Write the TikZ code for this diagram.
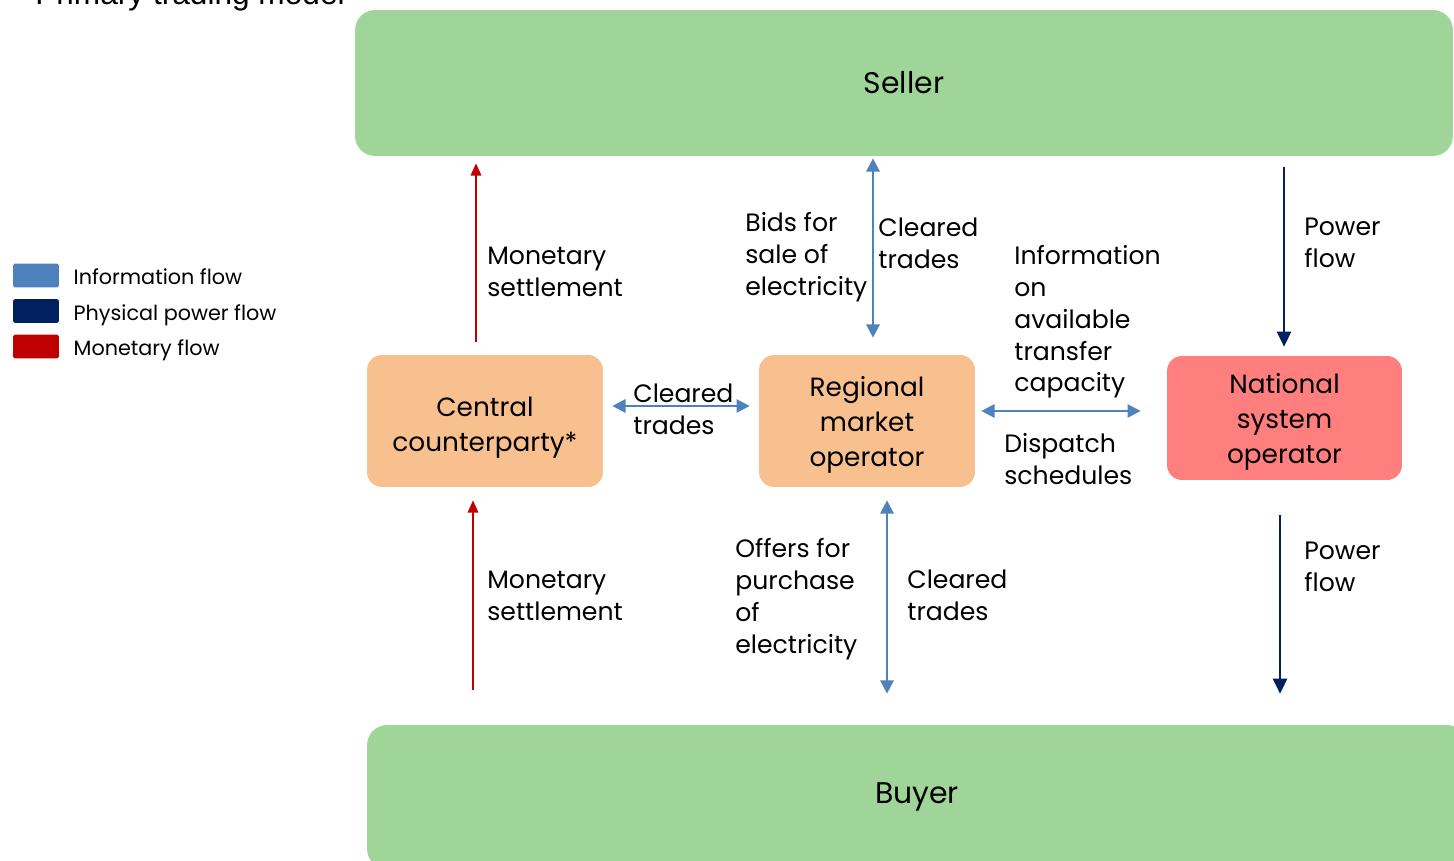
\documentclass[tikz,border=0pt]{standalone}
\usepackage{fontspec}
\usepackage{tikz}
\usetikzlibrary{arrows.meta, positioning, calc}
\setmainfont{Liberation Sans}
\newfontfamily\gothic{Poppins}
\newcommand{\lift}[1]{\rule{0pt}{#1}}
\definecolor{sellgreen}{HTML}{A0D59A}
\definecolor{ccppeach}{HTML}{F9C08F}
\definecolor{nsored}{HTML}{FF7F7F}
\definecolor{infoblue}{HTML}{4F81BD}
\definecolor{powerblue}{HTML}{002060}
\definecolor{moneyred}{HTML}{C00000}

\begin{document}
\begin{tikzpicture}[
    x=0.02cm, y=-0.02cm,
    party/.style={rectangle, fill=sellgreen, rounded corners=0.4cm, align=center, inner sep=0pt, font=\gothic\fontsize{17}{20}\selectfont},
    agent/.style={rectangle, rounded corners=0.3cm, align=center, inner sep=0pt, font=\gothic\fontsize{15}{19.8}\selectfont},
    flowtext/.style={anchor=west, align=left, inner sep=0pt, font=\gothic\fontsize{14.3}{18.1}\selectfont},
    key/.style={rectangle, rounded corners=1pt, minimum width=0.92cm, minimum height=0.48cm, inner sep=0pt},
    keytext/.style={anchor=west, inner sep=0pt, text height=11.6pt, text depth=1pt, font=\gothic\fontsize{11.8}{13}\selectfont},
    info/.style={{Triangle[length=7.5pt, width=7.5pt]}-{Triangle[length=7.5pt, width=7.5pt]}, line width=1.3pt, draw=infoblue},
    power/.style={-{Triangle[length=8.5pt, width=8pt]}, line width=1.3pt, draw=powerblue},
    money/.style={-{Triangle[length=7pt, width=6pt]}, line width=1.1pt, draw=moneyred}
]
\useasboundingbox (0,0) rectangle (1454,861);
\node[anchor=base west, inner sep=0pt, font=\fontsize{18}{20}\selectfont] (title) at (35,5) {Primary trading model};

\node[party, minimum width=21.96cm, minimum height=2.92cm] (seller) at (904,83) {Seller};
\node[party, minimum width=22cm, minimum height=2.88cm] (buyer) at (917,797) {Buyer};
\node[agent, fill=ccppeach, minimum width=4.72cm, minimum height=2.64cm] (ccp) at (485,421) {\lift{18.4pt}Central\\counterparty*};
\node[agent, fill=ccppeach, minimum width=4.32cm, minimum height=2.64cm] (rmo) at (867,421) {\lift{16pt}Regional\\market\\operator};
\node[agent, fill=nsored, minimum width=4.7cm, minimum height=2.48cm] (nso) at (1284.5,418) {\lift{16pt}National\\system\\operator};

\node[key, fill=infoblue] (kinfo) at (36,275.5) {};
\node[key, fill=powerblue] (kpower) at (36,311) {};
\node[key, fill=moneyred] (kmoney) at (36,346.5) {};
\node[keytext, right=0.28cm of kinfo] (tinfo) {Information flow};
\node[keytext, right=0.28cm of kpower] (tpower) {Physical power flow};
\node[keytext, right=0.28cm of kmoney] (tmoney) {Monetary flow};

\draw[money] ($(ccp.north)+(-9,-13)$) -- ($(ccp.north|-seller.south)+(-9,7)$);
\draw[money] ($(ccp.south|-buyer.north)+(-12,-35)$) -- ($(ccp.south)+(-12,13)$);
\draw[info] ($(rmo.north|-seller.south)+(6,2)$) -- ($(rmo.north)+(6,-17)$);
\draw[info] ($(rmo.south)+(20,13)$) -- ($(rmo.south|-buyer.north)+(20,-31)$);
\draw[info] ($(ccp.east)+(9,-15)$) -- ($(rmo.west)+(-9,-15)$);
\draw[info] ($(rmo.east)+(6,-10)$) -- ($(nso.west)+(-26,-7)$);
\draw[power] ($(nso.north|-seller.south)+(-0.5,11)$) -- ($(nso.north)+(-0.5,-9)$);
\draw[power] ($(nso.south)+(-4.5,35)$) -- ($(nso.south|-buyer.north)+(-4.5,-31)$);

\node[flowtext] (monup) at (487,272) {Monetary\\settlement};
\node[flowtext] (bids) at (745,257) {Bids for\\sale of\\electricity};
\node[flowtext] (clrup) at (878,243) {Cleared\\trades};
\node[flowtext] (atc) at (1014,322) {Information\\on\\available\\transfer\\capacity};
\node[flowtext] (powup) at (1304,243) {Power\\flow};
\node[flowtext] (clrmid) at (633,409) {Cleared\\trades};
\node[flowtext] (dispatch) at (1004,459) {Dispatch\\schedules};
\node[flowtext] (mondown) at (487,596) {Monetary\\settlement};
\node[flowtext] (offers) at (735,599) {Offers for\\purchase\\of\\electricity};
\node[flowtext] (clrdown) at (907,595) {Cleared\\trades};
\node[flowtext] (powdown) at (1304,567) {Power\\flow};
\end{tikzpicture}
\end{document}
